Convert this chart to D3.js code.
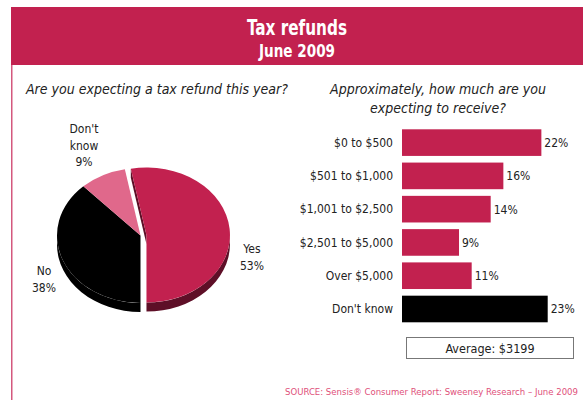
<!DOCTYPE html>
<html>
<head>
<meta charset="utf-8">
<script src="https://cdn.jsdelivr.net/npm/d3@7/dist/d3.min.js"></script>
<style>
  html, body { margin: 0; padding: 0; background: #fff; }
  svg { display: block; }
  text { font-family: "DejaVu Sans Condensed", "DejaVu Sans", Roboto, sans-serif; }
</style>
</head>
<body>
<svg id="chart" width="583" height="400"></svg>
<script>
// ---- data ----
const title = "Tax refunds";
const subtitle = "June 2009";
const pieQuestion = "Are you expecting a tax refund this year?";
const barQuestion = ["Approximately, how much are you", "expecting to receive?"];

const pieLabels = ["Yes", "No", "Don't know"];
const pieValues = [53, 38, 9];

const barCategories = ["$0 to $500", "$501 to $1,000", "$1,001 to $2,500", "$2,501 to $5,000", "Over $5,000", "Don't know"];
const barValues = [22, 16, 14, 9, 11, 23];

const averageText = "Average: $3199";
const sourceText = "SOURCE: Sensis\u00AE Consumer Report: Sweeney Research \u2013 June 2009";

// ---- colours ----
const crimson = "#c2214f";
const crimsonDark = "#5e0f27";
const pink = "#e0688b";
const textColor = "#222";

const svg = d3.select("#chart");

// narrow a text element to a given width when it runs wider
function fitWidth(sel, w) {
  sel.each(function () {
    if (this.getComputedTextLength() > w) {
      d3.select(this).attr("textLength", w).attr("lengthAdjust", "spacingAndGlyphs");
    }
  });
  return sel;
}

// ---- header band and frame ----
svg.append("rect").attr("x", 11).attr("y", 7).attr("width", 572).attr("height", 58).attr("fill", crimson);
svg.append("line").attr("x1", 11.75).attr("x2", 11.75).attr("y1", 65).attr("y2", 400)
  .attr("stroke", "#d4587e").attr("stroke-width", 1.5);

fitWidth(svg.append("text").attr("x", 297).attr("y", 35).attr("text-anchor", "middle")
  .attr("fill", "#fff").attr("font-size", 21).attr("font-weight", "bold").text(title), 100);
fitWidth(svg.append("text").attr("x", 297).attr("y", 57).attr("text-anchor", "middle")
  .attr("fill", "#fff").attr("font-size", 18).attr("font-weight", "bold").text(subtitle), 76);

// ---- questions ----
svg.append("text").attr("x", 26).attr("y", 94).attr("font-size", 14).attr("font-style", "italic")
  .attr("fill", textColor).text(pieQuestion);
svg.append("text").attr("x", 438).attr("y", 94).attr("text-anchor", "middle")
  .attr("font-size", 14).attr("font-style", "italic").attr("fill", textColor)
  .selectAll("tspan").data(barQuestion).join("tspan")
  .attr("x", 438).attr("dy", (d, i) => i ? 19 : 0).text(d => d);

// ---- 3D pie ----
const cx = 140.5, cy = 235.5, rx = 83.5, ry = 67.5, depth = 9, explode = 6;
const yesShare = pieValues[0] / d3.sum(pieValues);
const pie = d3.pie().sort(null).value(d => d)
  .startAngle(Math.PI - yesShare * 2 * Math.PI)
  .endAngle(Math.PI - yesShare * 2 * Math.PI + 2 * Math.PI);
const arcs = pie(pieValues);
const fills = [crimson, "#000", pink];
const sideFills = [crimsonDark, "#000", "#8a2a48"];

function offsetOf(i) {
  if (i !== 0) return [0, 0];
  const mid = (arcs[i].startAngle + arcs[i].endAngle) / 2;
  return [explode * Math.sin(mid), -explode * Math.cos(mid) * ry / rx];
}
function pt(a, o, dz) {
  return [cx + o[0] + rx * Math.sin(a), cy + o[1] - ry * Math.cos(a) + (dz || 0)];
}
function topPath(d, i) {
  const o = offsetOf(i);
  const p0 = pt(d.startAngle, o), p1 = pt(d.endAngle, o);
  const large = d.endAngle - d.startAngle > Math.PI ? 1 : 0;
  return `M${cx + o[0]},${cy + o[1]}L${p0}A${rx},${ry} 0 ${large} 1 ${p1}Z`;
}
function sidePath(d, i) {
  const s = Math.max(d.startAngle, Math.PI / 2), e = Math.min(d.endAngle, 3 * Math.PI / 2);
  if (e <= s) return null;
  const o = offsetOf(i);
  return `M${pt(s, o)}A${rx},${ry} 0 0 1 ${pt(e, o)}L${pt(e, o, depth)}A${rx},${ry} 0 0 0 ${pt(s, o, depth)}Z`;
}

const pieG = svg.append("g");
// outer walls
pieG.selectAll("path.side").data(arcs).join("path").attr("class", "side")
  .attr("d", (d, i) => sidePath(d, i)).attr("fill", (d, i) => sideFills[i])
  .filter(function () { return !d3.select(this).attr("d"); }).remove();
// cut face of the pulled-out slice, seen through the gap
{
  const d = arcs[0], o = offsetOf(0);
  const c = [cx + o[0], cy + o[1]];
  const p = pt(d.startAngle, o);
  pieG.append("path")
    .attr("d", `M${c}L${p}L${p[0]},${p[1] + depth}L${c[0]},${c[1] + depth}Z`)
    .attr("fill", crimsonDark);
}
// top faces
pieG.selectAll("path.top").data(arcs).join("path").attr("class", "top")
  .attr("d", (d, i) => topPath(d, i)).attr("fill", (d, i) => fills[i]);

// pie labels
const pieLabelLayout = [
  { x: 252, y: 253, lines: ["Yes", pieValues[0] + "%"] },
  { x: 44, y: 275, lines: ["No", pieValues[1] + "%"] },
  { x: 84, y: 133, lines: ["Don't", "know", pieValues[2] + "%"] }
];
pieLabelLayout.forEach(l => {
  svg.append("text").attr("text-anchor", "middle").attr("font-size", 12).attr("fill", textColor)
    .attr("y", l.y)
    .selectAll("tspan").data(l.lines).join("tspan")
    .attr("x", l.x).attr("dy", (d, i) => i ? 16.5 : 0).text(d => d);
});

// ---- bars ----
const x = d3.scaleLinear().domain([0, 23]).range([402, 547.7]);
const y = d3.scaleBand().domain(barCategories).range([129.3, 322.3]).paddingInner(0.2).paddingOuter(0);

const barG = svg.append("g");
barG.selectAll("rect").data(barCategories).join("rect")
  .attr("x", x(0)).attr("y", d => y(d))
  .attr("width", (d, i) => x(barValues[i]) - x(0))
  .attr("height", y.bandwidth())
  .attr("fill", (d, i) => i === barCategories.length - 1 ? "#000" : crimson);

barG.selectAll("text.val").data(barCategories).join("text").attr("class", "val")
  .attr("x", (d, i) => x(barValues[i]) + 3)
  .attr("y", d => y(d) + y.bandwidth() / 2 + 4.5)
  .attr("font-size", 12).attr("fill", textColor)
  .text((d, i) => barValues[i] + "%");

// category axis on the left, without line or ticks
const yAxis = svg.append("g").attr("transform", "translate(398,0)")
  .call(d3.axisLeft(y).tickSize(0).tickPadding(5));
yAxis.select(".domain").remove();
yAxis.selectAll("text").attr("font-size", 12).attr("fill", textColor)
  .attr("font-family", null).attr("dy", "0.35em");

// ---- average box ----
svg.append("rect").attr("x", 406.5).attr("y", 337.5).attr("width", 167).attr("height", 21)
  .attr("fill", "#fff").attr("stroke", "#777").attr("stroke-width", 1);
svg.append("text").attr("x", 490).attr("y", 352.5).attr("text-anchor", "middle")
  .attr("font-size", 12.5).attr("fill", textColor).text(averageText);

// ---- source ----
svg.append("text").attr("x", 578).attr("y", 395).attr("text-anchor", "end")
  .attr("font-size", 9.5).attr("fill", "#e0507a").text(sourceText);
</script>
</body>
</html>
